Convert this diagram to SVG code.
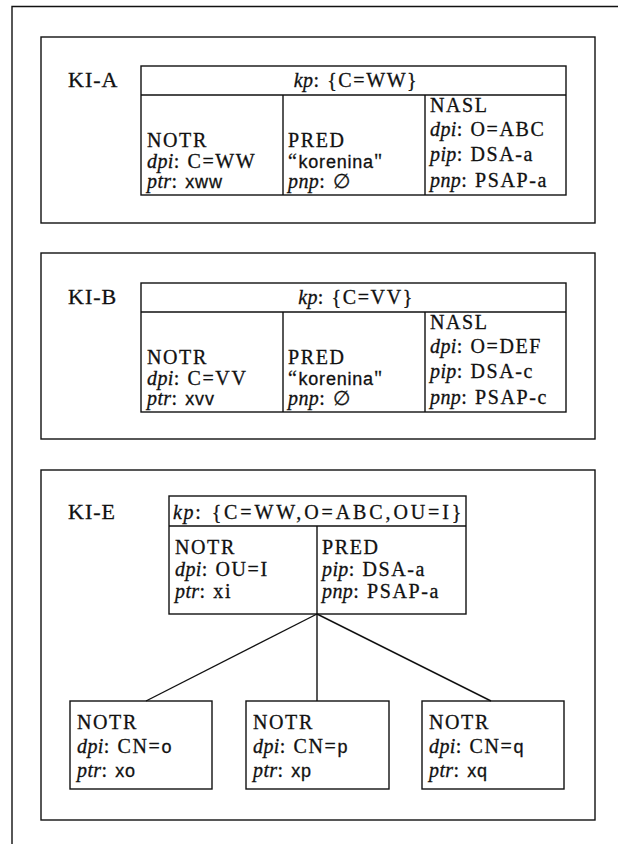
<svg xmlns="http://www.w3.org/2000/svg" width="618" height="844" viewBox="0 0 618 844">
<style>
.f{fill:none;stroke:#111;stroke-width:1.4}
.t{font-family:"Liberation Serif","DejaVu Serif",serif;font-size:20px;fill:#111;stroke:#111;stroke-width:0.3;letter-spacing:1.6px}
.lb{font-family:"Liberation Serif","DejaVu Serif",serif;font-size:22px;fill:#111;stroke:#111;stroke-width:0.3;letter-spacing:1px}
.i{font-style:italic;letter-spacing:0.4px}
.s{font-family:"Liberation Sans","DejaVu Sans",sans-serif;font-size:18px;letter-spacing:0.8px}
.c{stroke:#111;stroke-width:1.4;fill:none}
</style>
<rect width="618" height="844" fill="#fff"/>
<g id="frame"><path class="f" d="M12,844 V6.5 H618"/></g>

<g id="ki-a">
<rect class="f" x="41" y="37" width="554" height="186"/>
<text class="lb" x="68" y="87">KI-A</text>
<rect class="f" x="141" y="66" width="425" height="129"/>
<path class="f" d="M141,95 H566 M283,95 V195 M425,95 V195"/>
<text class="t" x="356" y="87" text-anchor="middle"><tspan class="i">kp</tspan>: {C=WW}</text>
<text class="t" x="147" y="147">NOTR</text>
<text class="t" x="147" y="168"><tspan class="i">dpi</tspan>: C=WW</text>
<text class="t" x="147" y="188"><tspan class="i">ptr</tspan>: <tspan class="s">xww</tspan></text>
<text class="t" x="288" y="147">PRED</text>
<text class="t" x="288" y="168">“<tspan class="s">korenina</tspan>"</text>
<text class="t" x="288" y="188"><tspan class="i">pnp</tspan>: ∅</text>
<text class="t" x="430" y="112">NASL</text>
<text class="t" x="430" y="136"><tspan class="i">dpi</tspan>: O=ABC</text>
<text class="t" x="430" y="161"><tspan class="i">pip</tspan>:  DSA-a</text>
<text class="t" x="430" y="187"><tspan class="i">pnp</tspan>: PSAP-a</text>
</g>

<g id="ki-b">
<rect class="f" x="41" y="253" width="554" height="186"/>
<text class="lb" x="68" y="304">KI-B</text>
<rect class="f" x="141" y="283" width="425" height="129"/>
<path class="f" d="M141,312 H566 M283,312 V412 M425,312 V412"/>
<text class="t" x="356" y="304" text-anchor="middle"><tspan class="i">kp</tspan>: {C=VV}</text>
<text class="t" x="147" y="364">NOTR</text>
<text class="t" x="147" y="385"><tspan class="i">dpi</tspan>: C=VV</text>
<text class="t" x="147" y="405"><tspan class="i">ptr</tspan>: <tspan class="s">xvv</tspan></text>
<text class="t" x="288" y="364">PRED</text>
<text class="t" x="288" y="385">“<tspan class="s">korenina</tspan>"</text>
<text class="t" x="288" y="405"><tspan class="i">pnp</tspan>: ∅</text>
<text class="t" x="430" y="329">NASL</text>
<text class="t" x="430" y="353"><tspan class="i">dpi</tspan>: O=DEF</text>
<text class="t" x="430" y="378"><tspan class="i">pip</tspan>:  DSA-c</text>
<text class="t" x="430" y="404"><tspan class="i">pnp</tspan>: PSAP-c</text>
</g>

<g id="ki-e">
<rect class="f" x="41" y="470" width="554" height="350"/>
<text class="lb" x="68" y="519">KI-E</text>
</g>

<g id="ki-e-root">
<rect class="f" x="169" y="496" width="297" height="118"/>
<path class="f" d="M169,526 H466 M317,526 V614"/>
<text class="t" x="173" y="519" textLength="290" lengthAdjust="spacing"><tspan class="i">kp</tspan>: {C=WW,O=ABC,OU=I}</text>
<text class="t" x="175" y="554">NOTR</text>
<text class="t" x="175" y="576"><tspan class="i">dpi</tspan>: OU=I</text>
<text class="t" x="175" y="598"><tspan class="i">ptr</tspan>: xi</text>
<text class="t" x="322" y="554">PRED</text>
<text class="t" x="322" y="576"><tspan class="i">pip</tspan>:  DSA-a</text>
<text class="t" x="322" y="598"><tspan class="i">pnp</tspan>: PSAP-a</text>
</g>

<g id="connectors">
<line class="c" x1="317" y1="614" x2="146" y2="701"/>
<line class="c" x1="317" y1="614" x2="317" y2="701"/>
<line class="c" x1="317" y1="614" x2="491" y2="701"/>
</g>

<g id="child-o">
<rect class="f" x="70" y="701" width="142" height="88"/>
<text class="t" x="77" y="729">NOTR</text>
<text class="t" x="77" y="753"><tspan class="i">dpi</tspan>: CN=<tspan class="s">o</tspan></text>
<text class="t" x="77" y="777"><tspan class="i">ptr</tspan>: <tspan class="s">xo</tspan></text>
</g>
<g id="child-p">
<rect class="f" x="246" y="701" width="143" height="88"/>
<text class="t" x="253" y="729">NOTR</text>
<text class="t" x="253" y="753"><tspan class="i">dpi</tspan>: CN=<tspan class="s">p</tspan></text>
<text class="t" x="253" y="777"><tspan class="i">ptr</tspan>: <tspan class="s">xp</tspan></text>
</g>
<g id="child-q">
<rect class="f" x="422" y="701" width="142" height="88"/>
<text class="t" x="429" y="729">NOTR</text>
<text class="t" x="429" y="753"><tspan class="i">dpi</tspan>: CN=<tspan class="s">q</tspan></text>
<text class="t" x="429" y="777"><tspan class="i">ptr</tspan>: <tspan class="s">xq</tspan></text>
</g>
</svg>
